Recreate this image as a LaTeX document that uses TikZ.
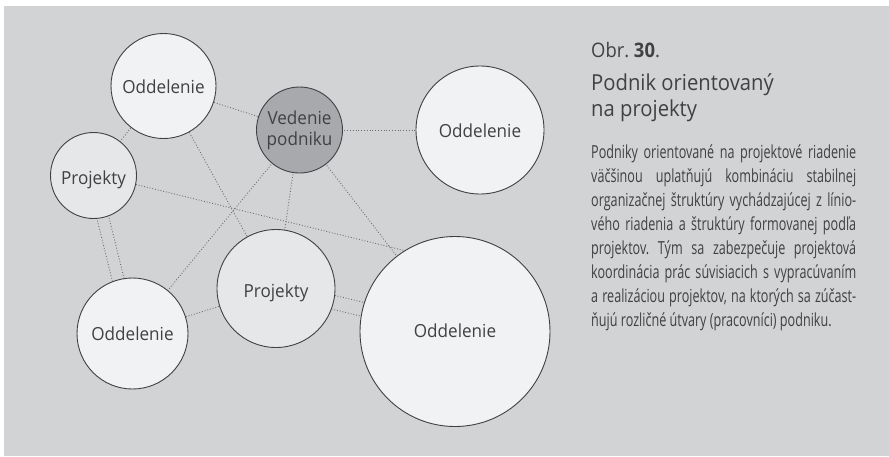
\documentclass[tikz,border=0pt]{standalone}
\usepackage{fontspec}
\setmainfont{Open Sans}
\newfontfamily\labelfont[FakeStretch=0.95]{Open Sans}
\newfontfamily\titlefont[FakeStretch=0.92]{Open Sans}
\newfontfamily\bodyfont[FakeStretch=0.70]{Open Sans}
\usetikzlibrary{calc,backgrounds}
\frenchspacing

\definecolor{panel}{HTML}{D1D3D4}
\definecolor{pale}{HTML}{F1F2F3}
\definecolor{paleproj}{HTML}{E6E7E8}
\definecolor{mgmt}{HTML}{A7A9AC}
\definecolor{ink}{HTML}{414042}
\definecolor{dots}{HTML}{6D6E71}

% one justified line of the caption text
\newcommand{\jline}[1]{\makebox[265pt][s]{#1}}

\begin{document}
\begin{tikzpicture}[x=1pt,y=-1pt,
  unitbase/.style={circle, draw=ink, line width=0.9pt, fill=pale, inner sep=0pt,
    text=ink, font=\labelfont\fontsize{18}{21}\selectfont},
  unit/.style={unitbase, text height=14pt, text depth=0pt},
  proj/.style={unitbase, fill=paleproj, text height=18pt, text depth=0pt},
  link/.style={draw=dots, line width=0.9pt, dash pattern=on 0.9pt off 1.9pt},
  caption/.style={anchor=base west, inner sep=0pt, text=ink},
  bodytext/.style={caption, font=\bodyfont\fontsize{18}{24}\selectfont},
]
\useasboundingbox (0,0) rectangle (889,456);

% organisational units
\node[unit, minimum size=105pt] (od1) at (163.5,86) {Oddelenie};
\node[unitbase, fill=mgmt, minimum size=86pt, align=center] (ved) at (299.5,130) {Vedenie\\podniku};
\node[unit, minimum size=128pt] (od2) at (480,130) {Oddelenie};
\node[proj, minimum size=86pt] (pj1) at (93.5,175.5) {Projekty};
\node[unit, minimum size=111pt] (od3) at (132.5,333.5) {Oddelenie};
\node[proj, minimum size=118pt] (pj2) at (276,288.5) {Projekty};
\node[unit, minimum size=190pt, text height=11pt] (od4) at (455,331.5) {Oddelenie};

\begin{scope}[on background layer]
  \fill[white] (0,0) rectangle (889,456);
  \fill[panel] (4,6) rectangle (889,456);
  % dotted relations between the units
  \draw[link] (od1.center) -- (ved.center);
  \draw[link] (ved.center) -- (od2.center);
  \draw[link] (od1.center) -- (pj1.center);
  \draw[link] (od1.center) -- (pj2.center);
  \draw[link] (ved.center) -- (od3.center);
  \draw[link] (ved.center) -- (pj2.center);
  \draw[link] (ved.center) -- (od4.center);
  \draw[link] (pj1.-12) -- (od4.122);
  \draw[link] (od3.center) -- (pj2.center);
  \draw[link] ($(pj1.center)!7pt!-90:(od3.center)$) -- ($(od3.center)!7pt!90:(pj1.center)$);
  \draw[link] ($(pj1.center)!5pt!90:(od3.center)$) -- ($(od3.center)!5pt!-90:(pj1.center)$);
  \draw[link] ($(pj2.center)!7pt!90:(od4.center)$) -- ($(od4.center)!7pt!-90:(pj2.center)$);
  \draw[link] ($(pj2.center)!7pt!-90:(od4.center)$) -- ($(od4.center)!7pt!90:(pj2.center)$);
\end{scope}

% caption
\node[caption, font=\titlefont\fontsize{20}{24}\selectfont] (fig) at (591,57) {Obr. \textbf{30}.};
\node[caption, font=\titlefont\fontsize{22}{26}\selectfont] (t1) at (591,90) {Podnik orientovaný};
\node[caption, font=\titlefont\fontsize{22}{26}\selectfont] (t2) at (591,116) {na projekty};

\node[bodytext] (b1) at (591,158.3) {\jline{Podniky orientované na projektové riadenie}};
\node[bodytext] (b2) at (591,182.3) {\jline{väčšinou uplatňujú kombináciu stabilnej}};
\node[bodytext] (b3) at (591,206.3) {\jline{organizačnej štruktúry vychádzajúcej z línio-}};
\node[bodytext] (b4) at (591,230.2) {\jline{vého riadenia a štruktúry formovanej podľa}};
\node[bodytext] (b5) at (591,254.2) {\jline{projektov. Tým sa zabezpečuje projektová}};
\node[bodytext] (b6) at (591,278.1) {\jline{koordinácia prác súvisiacich s vypracúvaním}};
\node[bodytext] (b7) at (591,302.1) {\jline{a realizáciou projektov, na ktorých sa zúčast-}};
\node[bodytext] (b8) at (591,326) {ňujú rozličné útvary (pracovníci) podniku.};
\end{tikzpicture}
\end{document}
